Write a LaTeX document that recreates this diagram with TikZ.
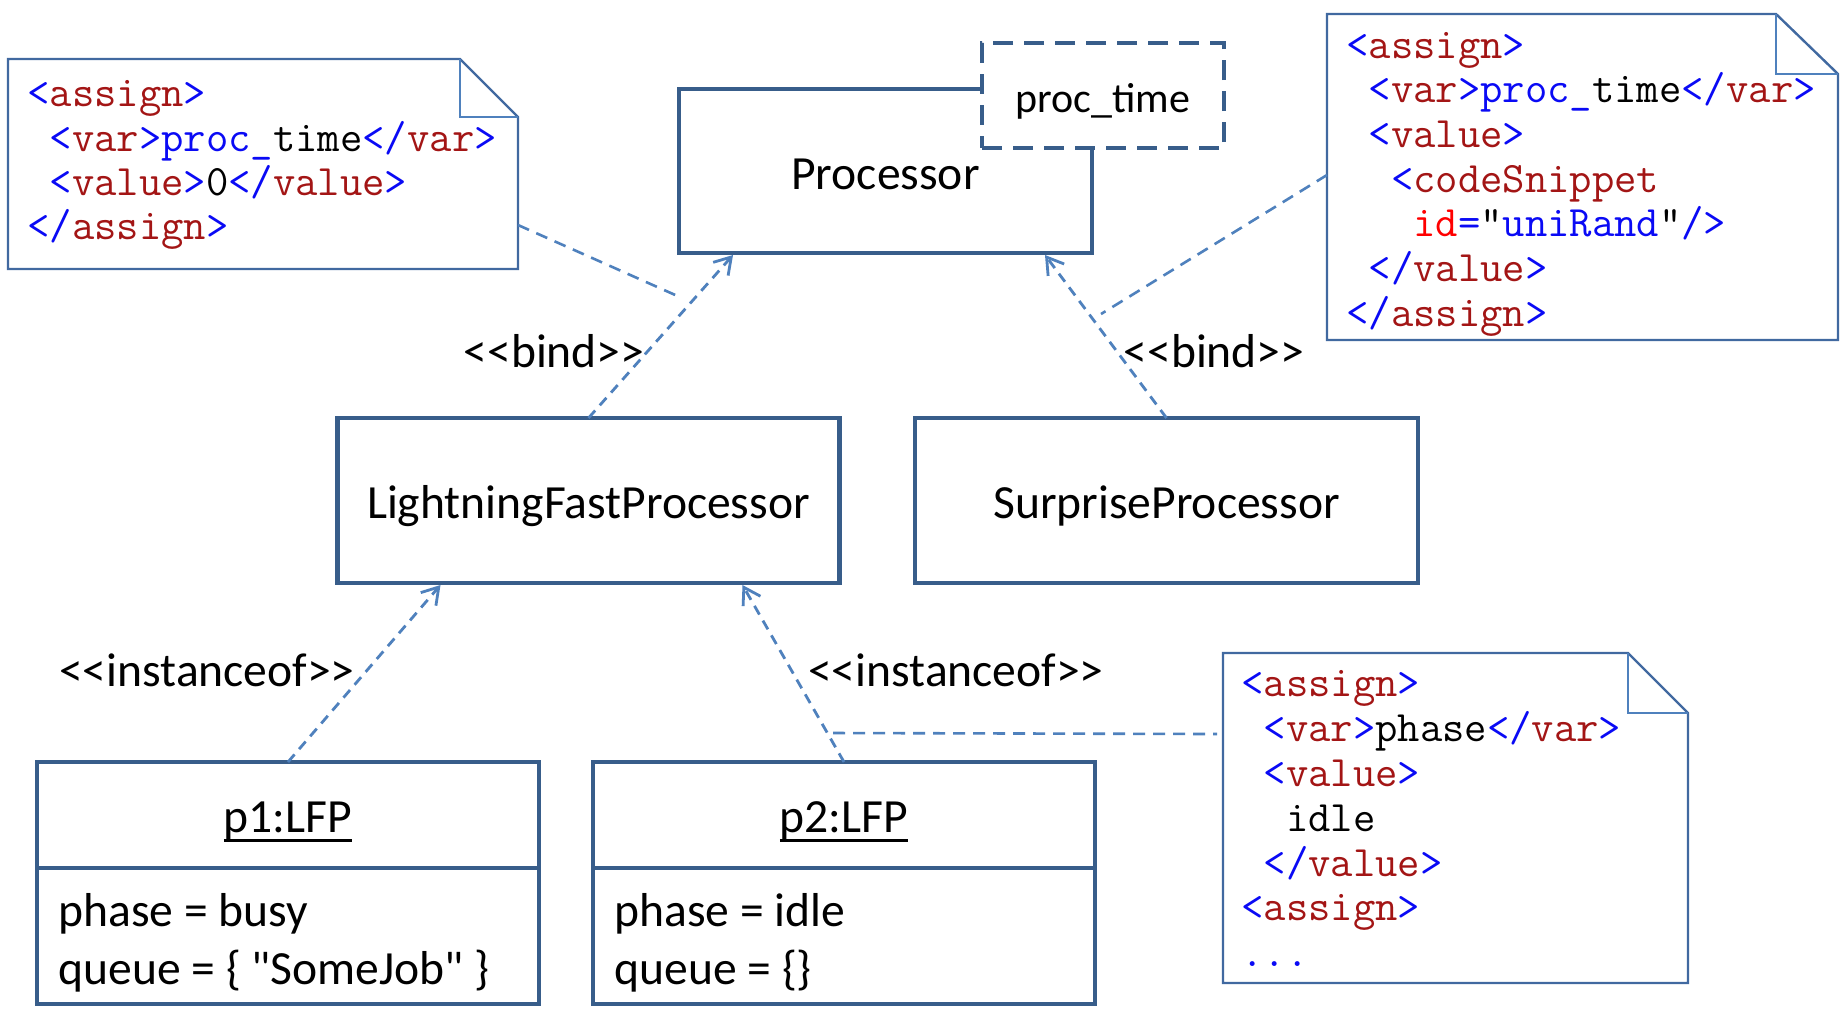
\documentclass[tikz,border=0pt]{standalone}
\usepackage{fontspec}
\setmainfont{Carlito}[Ligatures=TeXOff]
\usetikzlibrary{arrows.meta,calc}
\definecolor{boxc}{RGB}{56,93,138}
\definecolor{linkc}{RGB}{79,129,189}
\definecolor{notec}{RGB}{65,105,160}
\definecolor{xb}{RGB}{10,10,245}
\definecolor{xr}{RGB}{163,21,21}
\definecolor{xa}{RGB}{255,0,0}
\newcommand{\labfnt}{\fontsize{23.8pt}{28pt}\selectfont}
\newcommand{\ptfnt}{\fontsize{21pt}{25pt}\selectfont}
\newcommand{\codefnt}{\ttfamily\fontsize{21.7pt}{25pt}\selectfont}
\newcommand{\xo}[1]{\textcolor{xb}{<}\textcolor{xr}{#1}\textcolor{xb}{>}}
\newcommand{\xc}[1]{\textcolor{xb}{</}\textcolor{xr}{#1}\textcolor{xb}{>}}
\newcommand{\uln}[1]{\setbox0=\hbox{#1}\rlap{\vrule width\wd0 height -3.6pt depth 5.1pt}\box0}
\begin{document}
\begin{tikzpicture}[x=0.5pt,y=-0.5pt,
  cls/.style={draw=boxc, line width=2.2pt, fill=white, inner sep=0pt, outer sep=0pt, font=\labfnt, text height=18pt, text depth=0pt},
  attr/.style={anchor=base west, inner sep=0pt, font=\labfnt},
  lbl/.style={anchor=base, inner sep=0pt, font=\labfnt},
  notebox/.style={inner sep=0pt, outer sep=0pt},
  noteline/.style={draw=notec, line width=1.2pt, fill=white, line join=miter},
  foldline/.style={draw=linkc, line width=1.2pt},
  code/.style={anchor=base west, inner sep=0pt, font=\codefnt},
  dep/.style={draw=linkc, line width=1.4pt, dash pattern=on 5pt off 3.5pt, -{Straight Barb[length=8pt,width=10pt,line width=1.4pt]}},
  notelink/.style={draw=linkc, line width=1.3pt, dash pattern=on 6pt off 4pt}
]
\useasboundingbox (0,0) rectangle (1845,1009);
\fill[white] (0,0) rectangle (1845,1009);

% class boxes
\node[cls, minimum width=206.5pt, minimum height=82pt] (proc) at (885.5,171) {Processor};
\node[cls, dash pattern=on 10pt off 5.5pt, minimum width=121pt, minimum height=52.5pt, font=\ptfnt, text height=16.5pt] (pt) at (1103,95.5) {proc\_time};
\node[cls, minimum width=251pt, minimum height=82.5pt] (lfp) at (588.5,500.5) {LightningFastProcessor};
\node[cls, minimum width=251.5pt, minimum height=82.5pt] (sp) at (1166.5,500.5) {SurpriseProcessor};

% object boxes
\node[cls, minimum width=251pt, minimum height=53pt, text height=17pt] (p1) at (288,815) {\uln{p1:LFP}};
\node[cls, minimum width=251pt, minimum height=68pt] (p1b) at (288,936) {};
\node[cls, minimum width=251pt, minimum height=53pt, text height=17pt] (p2) at (844,815) {\uln{p2:LFP}};
\node[cls, minimum width=251pt, minimum height=68pt] (p2b) at (844,936) {};
\node[attr] (p1a) at (58,926) {phase = busy};
\node[attr] (p1q) at (58,984) {queue = \{ "SomeJob" \}};
\node[attr] (p2a) at (614,926) {phase = idle};
\node[attr] (p2q) at (614,984) {queue = \{\}};

% stereotype labels
\node[lbl] (bl) at (554,367) {<\kern0pt<bind>\kern0pt>};
\node[lbl] (br) at (1214,367) {<\kern0pt<bind>\kern0pt>};
\node[lbl] (il) at (207,686) {<\kern0pt<instanceof>\kern0pt>};
\node[lbl] (ir) at (956,686) {<\kern0pt<instanceof>\kern0pt>};

% dependencies
\draw[dep] (lfp.north) -- ($(proc.south west)+(54,2)$);
\draw[dep] (sp.north) -- ($(proc.south west)+(366,2)$);
\draw[dep] (p1.north) -- ($(lfp.south west)+(103,2)$);
\draw[dep] (p2.north) -- ($(lfp.south west)+(405,2)$);

% notes
\node[notebox, minimum width=255pt, minimum height=105pt] (n1) at (263,164) {};
\draw[noteline] (n1.north west) -- ($(n1.north east)+(-58,0)$) -- ($(n1.north east)+(0,58)$) -- (n1.south east) -- (n1.south west) -- cycle;
\draw[foldline] ($(n1.north east)+(-58,0)$) -- ($(n1.north east)+(-58,58)$) -- ($(n1.north east)+(0,58)$);

\node[notebox, minimum width=255.5pt, minimum height=163pt] (n2) at (1582.5,177) {};
\draw[noteline] (n2.north west) -- ($(n2.north east)+(-62,0)$) -- ($(n2.north east)+(0,60)$) -- (n2.south east) -- (n2.south west) -- cycle;
\draw[foldline] ($(n2.north east)+(-62,0)$) -- ($(n2.north east)+(-62,60)$) -- ($(n2.north east)+(0,60)$);

\node[notebox, minimum width=232.5pt, minimum height=165pt] (n3) at (1455.5,818) {};
\draw[noteline] (n3.north west) -- ($(n3.north east)+(-60,0)$) -- ($(n3.north east)+(0,60)$) -- (n3.south east) -- (n3.south west) -- cycle;
\draw[foldline] ($(n3.north east)+(-60,0)$) -- ($(n3.north east)+(-60,60)$) -- ($(n3.north east)+(0,60)$);

% note text
\node[code] (n1t1) at (27,106) {\xo{assign}};
\node[code] (n1t2) at (27+22.3,151) {\xo{var}\textcolor{xb}{proc\_}time\xc{var}};
\node[code] (n1t3) at (27+22.3,195) {\xo{value}0\xc{value}};
\node[code] (n1t4) at (27,239) {\xc{assign}};

\node[code] (n2t1) at (1346,58) {\xo{assign}};
\node[code] (n2t2) at (1346+22.3,102) {\xo{var}\textcolor{xb}{proc\_}time\xc{var}};
\node[code] (n2t3) at (1346+22.3,147) {\xo{value}};
\node[code] (n2t4) at (1346+44.6,192) {\textcolor{xb}{<}\textcolor{xr}{codeSnippet}};
\node[code] (n2t5) at (1346+66.9,236) {\textcolor{xa}{id}\textcolor{xb}{=}"\textcolor{xb}{uniRand}"\textcolor{xb}{/>}};
\node[code] (n2t6) at (1346+22.3,281) {\xc{value}};
\node[code] (n2t7) at (1346,326) {\xc{assign}};

\node[code] (n3t1) at (1241,696) {\xo{assign}};
\node[code] (n3t2) at (1241+22.3,741) {\xo{var}phase\xc{var}};
\node[code] (n3t3) at (1241+22.3,786) {\xo{value}};
\node[code] (n3t4) at (1241+44.6,831) {idle};
\node[code] (n3t5) at (1241+22.3,876) {\xc{value}};
\node[code] (n3t6) at (1241,920) {\xo{assign}};
\node[code] (n3t7) at (1241,966) {\textcolor{xb}{...}};

% note links
\coordinate (n1end) at (682,298);
\coordinate (n2end) at (1101,314);
\coordinate (n3start) at (833,733);
\draw[notelink] ($(n1.north east)+(0,166)$) -- (n1end);
\draw[notelink] ($(n2.north west)+(0,161)$) -- (n2end);
\draw[notelink] (n3start) -- ($(n3.north west)+(-6,81)$);
\end{tikzpicture}
\end{document}
